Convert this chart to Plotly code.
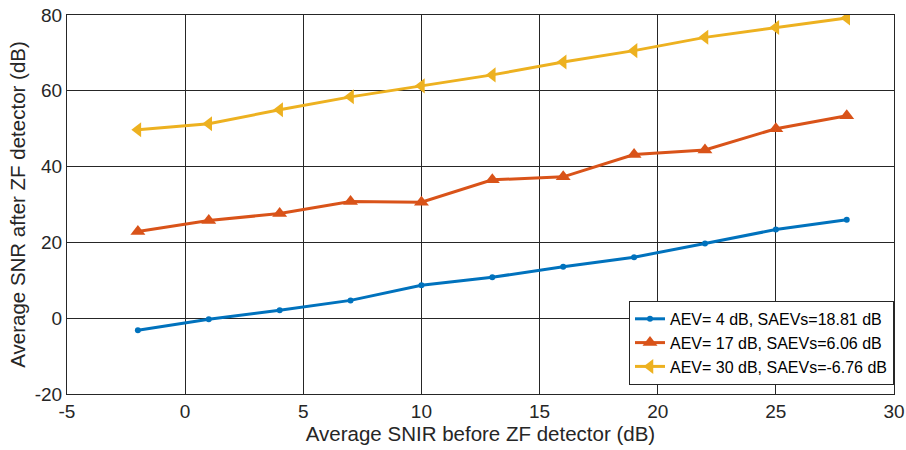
import plotly.graph_objects as go

snir = [-2, 1, 4, 7, 10, 13, 16, 19, 22, 25, 28]
aev4 = [-3.2, -0.3, 2.1, 4.7, 8.7, 10.8, 13.6, 16.1, 19.7, 23.4, 26.0]
aev17 = [22.9, 25.8, 27.6, 30.8, 30.6, 36.5, 37.3, 43.2, 44.4, 50.0, 53.4]
aev30 = [49.7, 51.3, 55.0, 58.4, 61.3, 64.2, 67.6, 70.6, 74.1, 76.7, 79.2]

xticks = [-5, 0, 5, 10, 15, 20, 25, 30]
yticks = [-20, 0, 20, 40, 60, 80]

names = ["AEV= 4 dB, SAEVs=18.81 dB", "AEV= 17 dB, SAEVs=6.06 dB", "AEV= 30 dB, SAEVs=-6.76 dB"]
colors = ["#0072BD", "#D95319", "#EDB120"]
symbols = ["circle", "triangle-up", "triangle-left"]
sizes = [6, 13, 13]

fig = go.Figure()
for ys, n, c, s, sz in zip([aev4, aev17, aev30], names, colors, symbols, sizes):
    fig.add_trace(go.Scatter(x=snir, y=ys, name=n, mode="lines+markers",
                             line=dict(color=c, width=3),
                             marker=dict(symbol=s, size=sz, color=c)))

font_family = "Liberation Sans, Arial, sans-serif"
fig.update_layout(
    width=906, height=450,
    margin=dict(l=67, r=12, t=15, b=56, autoexpand=False),
    paper_bgcolor="white", plot_bgcolor="white",
    font=dict(family=font_family, size=19, color="#262626"),
    legend=dict(x=1, y=0.024, xanchor="right", yanchor="bottom",
                bgcolor="white", bordercolor="#262626", borderwidth=1,
                font=dict(size=16, color="black"), tracegroupgap=0,
                itemwidth=30),
    showlegend=True,
)
fig.update_xaxes(range=[-5, 30], tickmode="array", tickvals=xticks, ticktext=[str(v) for v in xticks],
                 showgrid=True, gridcolor="#262626", gridwidth=1, automargin=False,
                 showline=True, linecolor="#262626", mirror=True, ticks="",
                 zeroline=False, title=dict(text="Average SNIR before ZF detector (dB)", font=dict(size=20.5), standoff=3))
fig.update_yaxes(range=[-20, 80], tickmode="array", tickvals=yticks, ticktext=[str(v) for v in yticks],
                 showgrid=True, gridcolor="#262626", gridwidth=1, automargin=False,
                 showline=True, linecolor="#262626", mirror=True, ticks="",
                 zeroline=False, title=dict(text="Average SNR after ZF detector (dB)", font=dict(size=20.5), standoff=3))

fig.write_html("out.html")
